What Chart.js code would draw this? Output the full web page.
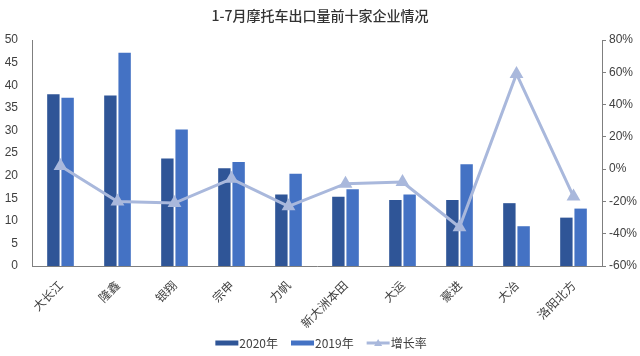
<!DOCTYPE html>
<html><head><meta charset="utf-8">
<script src="https://cdn.jsdelivr.net/npm/chart.js@4/dist/chart.umd.min.js"></script>
<style>html,body{margin:0;padding:0;background:#fff}#wrap{width:640px;height:356px}</style>
</head><body><div id="wrap"><canvas id="c" width="640" height="356"></canvas></div>
<script>
const categories = ['大长江','隆鑫','银翔','宗申','力帆','新大洲本田','大运','豪进','大冶','洛阳北方'];
const sales2020 = [38.0, 37.7, 23.8, 21.6, 15.8, 15.3, 14.6, 14.6, 13.9, 10.7];
const sales2019 = [37.2, 47.2, 30.2, 23.0, 20.4, 17.0, 15.8, 22.5, 8.8, 12.7];
const growth = [2, -20, -21, -6, -23, -9, -8, -36, 59, -17];
const seriesNames = ['2020年','2019年','增长率'];
const titleText = '1-7月摩托车出口量前十家企业情况';

const numFont = {family: "'Liberation Sans Narrow','Liberation Sans',sans-serif", size: 12};
const cjk = "'Noto Sans CJK SC','Noto Sans',sans-serif";

const titleLegend = {
  id:'titleLegend',
  afterDraw(chart){
    const ctx = chart.ctx;
    ctx.save();
    ctx.fillStyle = '#333333';
    ctx.font = "500 14px 'Noto Sans CJK SC', sans-serif";
    ctx.textAlign = 'center'; ctx.textBaseline = 'middle';
    ctx.fillText(titleText, 320, 16);
    // legend
    const ds = chart.data.datasets;
    ctx.font = "12px 'Noto Sans CJK SC', sans-serif";
    ctx.textAlign = 'left';
    const y = 343;
    const widths = ds.map(d => ctx.measureText(d.label).width);
    const boxW = 23, gapBT = 1, gapItem = 13;
    let total = 0;
    ds.forEach((d,i)=>{ total += boxW + gapBT + widths[i] + (i<ds.length-1?gapItem:0); });
    let x = 321 - total/2;
    ds.forEach((d,i)=>{
      if (d.type === 'bar') {
        ctx.fillStyle = d.backgroundColor;
        ctx.fillRect(x, y-2.5, boxW, 5);
      } else {
        ctx.strokeStyle = d.borderColor; ctx.lineWidth = 3;
        ctx.beginPath(); ctx.moveTo(x, y); ctx.lineTo(x+boxW, y); ctx.stroke();
        ctx.fillStyle = d.borderColor;
        ctx.beginPath(); ctx.moveTo(x+boxW/2, y-4); ctx.lineTo(x+boxW/2+4, y+3); ctx.lineTo(x+boxW/2-4, y+3); ctx.closePath(); ctx.fill();
      }
      ctx.fillStyle = '#404040';
      ctx.fillText(d.label, x+boxW+gapBT, y);
      x += boxW + gapBT + widths[i] + gapItem;
    });
    ctx.restore();
  }
};

new Chart(document.getElementById('c'), {
  data: {
    labels: categories,
    datasets: [
      {type:'bar', label: seriesNames[0], data: sales2020, backgroundColor:'#2F5597', yAxisID:'y', order:1,
       categoryPercentage:0.5, barPercentage:0.87},
      {type:'bar', label: seriesNames[1], data: sales2019, backgroundColor:'#4472C4', yAxisID:'y', order:1,
       categoryPercentage:0.5, barPercentage:0.87},
      {type:'line', label: seriesNames[2], data: growth, borderColor:'#A9B8DC', backgroundColor:'#A9B8DC', borderWidth:3,
       pointStyle:'triangle', pointRadius:5, pointBackgroundColor:'#A9B8DC', pointBorderColor:'#A9B8DC', yAxisID:'y1', order:0, tension:0}
    ]
  },
  options: {
    responsive:false, animation:false,
    layout:{padding:{top:40,bottom:0,left:0,right:0}},
    plugins:{ title:{display:false}, legend:{display:false}, tooltip:{enabled:false} },
    scales:{
      x:{grid:{display:false}, border:{display:true,color:'#7f7f7f'},
         ticks:{color:'#404040', font:{family:cjk,size:12}, minRotation:45, maxRotation:45, padding:4},
         afterFit(a){a.height=90;}},
      y:{position:'left', min:0, max:50, grid:{display:false}, border:{display:true,color:'#7f7f7f'},
         ticks:{stepSize:5, color:'#404040', font:numFont, padding:6},
         afterFit(a){a.width=32;}},
      y1:{position:'right', min:-60, max:80, grid:{display:true, drawOnChartArea:false, drawTicks:true, tickLength:4, color:'#7f7f7f'},
         border:{display:true,color:'#7f7f7f'},
         ticks:{stepSize:20, color:'#404040', font:numFont, padding:3, callback:v=>v+'%'},
         afterFit(a){a.width=38;}}
    }
  },
  plugins:[titleLegend]
});
</script></body></html>
